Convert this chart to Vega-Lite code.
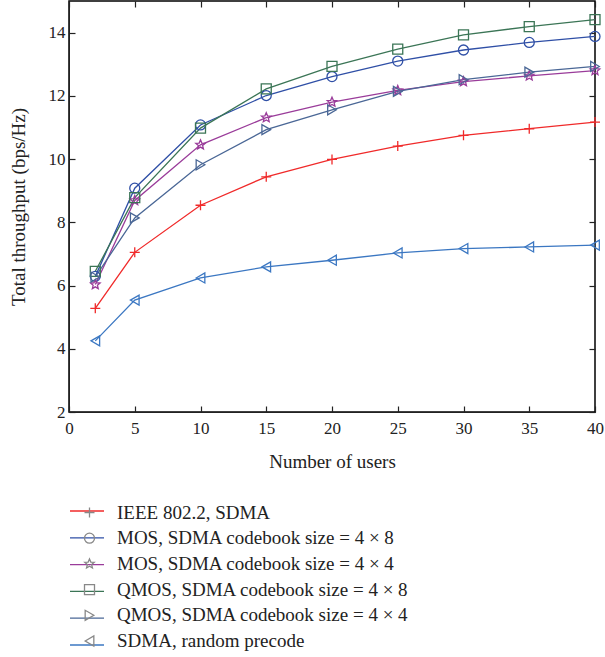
{
  "$schema": "https://vega.github.io/schema/vega-lite/v6.json",
  "width": 526,
  "height": 411,
  "autosize": {"type": "none"},
  "padding": {"left": 69, "top": 1, "right": 10, "bottom": 245},
  "config": {
    "font": "Liberation Serif",
    "view": {"stroke": "black", "strokeWidth": 1.5},
    "axis": {"grid": false, "labelFlush": false, "labelFont": "Liberation Serif", "titleFont": "Liberation Serif", "labelColor": "#222", "titleColor": "#222", "labelFontSize": 17, "titleFontSize": 19, "titleFontWeight": "normal", "tickColor": "#222", "domainColor": "#222", "tickSize": -6, "tickWidth": 1.2},
    "legend": {"labelFont": "Liberation Serif", "labelFontSize": 19, "labelColor": "#222", "labelLimit": 500}
  },
  "data": {"values": [
    {"users": 2, "throughput": 5.28, "series": "IEEE 802.2, SDMA"},
    {"users": 5, "throughput": 7.05, "series": "IEEE 802.2, SDMA"},
    {"users": 10, "throughput": 8.54, "series": "IEEE 802.2, SDMA"},
    {"users": 15, "throughput": 9.44, "series": "IEEE 802.2, SDMA"},
    {"users": 20, "throughput": 9.99, "series": "IEEE 802.2, SDMA"},
    {"users": 25, "throughput": 10.41, "series": "IEEE 802.2, SDMA"},
    {"users": 30, "throughput": 10.75, "series": "IEEE 802.2, SDMA"},
    {"users": 35, "throughput": 10.96, "series": "IEEE 802.2, SDMA"},
    {"users": 40, "throughput": 11.17, "series": "IEEE 802.2, SDMA"},
    {"users": 2, "throughput": 6.29, "series": "MOS, SDMA codebook size = 4 × 8"},
    {"users": 5, "throughput": 9.08, "series": "MOS, SDMA codebook size = 4 × 8"},
    {"users": 10, "throughput": 11.08, "series": "MOS, SDMA codebook size = 4 × 8"},
    {"users": 15, "throughput": 12.01, "series": "MOS, SDMA codebook size = 4 × 8"},
    {"users": 20, "throughput": 12.61, "series": "MOS, SDMA codebook size = 4 × 8"},
    {"users": 25, "throughput": 13.10, "series": "MOS, SDMA codebook size = 4 × 8"},
    {"users": 30, "throughput": 13.45, "series": "MOS, SDMA codebook size = 4 × 8"},
    {"users": 35, "throughput": 13.69, "series": "MOS, SDMA codebook size = 4 × 8"},
    {"users": 40, "throughput": 13.88, "series": "MOS, SDMA codebook size = 4 × 8"},
    {"users": 2, "throughput": 6.03, "series": "MOS, SDMA codebook size = 4 × 4"},
    {"users": 5, "throughput": 8.69, "series": "MOS, SDMA codebook size = 4 × 4"},
    {"users": 10, "throughput": 10.45, "series": "MOS, SDMA codebook size = 4 × 4"},
    {"users": 15, "throughput": 11.31, "series": "MOS, SDMA codebook size = 4 × 4"},
    {"users": 20, "throughput": 11.80, "series": "MOS, SDMA codebook size = 4 × 4"},
    {"users": 25, "throughput": 12.17, "series": "MOS, SDMA codebook size = 4 × 4"},
    {"users": 30, "throughput": 12.45, "series": "MOS, SDMA codebook size = 4 × 4"},
    {"users": 35, "throughput": 12.63, "series": "MOS, SDMA codebook size = 4 × 4"},
    {"users": 40, "throughput": 12.80, "series": "MOS, SDMA codebook size = 4 × 4"},
    {"users": 2, "throughput": 6.45, "series": "QMOS, SDMA codebook size = 4 × 8"},
    {"users": 5, "throughput": 8.78, "series": "QMOS, SDMA codebook size = 4 × 8"},
    {"users": 10, "throughput": 10.98, "series": "QMOS, SDMA codebook size = 4 × 8"},
    {"users": 15, "throughput": 12.22, "series": "QMOS, SDMA codebook size = 4 × 8"},
    {"users": 20, "throughput": 12.93, "series": "QMOS, SDMA codebook size = 4 × 8"},
    {"users": 25, "throughput": 13.48, "series": "QMOS, SDMA codebook size = 4 × 8"},
    {"users": 30, "throughput": 13.93, "series": "QMOS, SDMA codebook size = 4 × 8"},
    {"users": 35, "throughput": 14.19, "series": "QMOS, SDMA codebook size = 4 × 8"},
    {"users": 40, "throughput": 14.41, "series": "QMOS, SDMA codebook size = 4 × 8"},
    {"users": 2, "throughput": 6.27, "series": "QMOS, SDMA codebook size = 4 × 4"},
    {"users": 5, "throughput": 8.14, "series": "QMOS, SDMA codebook size = 4 × 4"},
    {"users": 10, "throughput": 9.82, "series": "QMOS, SDMA codebook size = 4 × 4"},
    {"users": 15, "throughput": 10.93, "series": "QMOS, SDMA codebook size = 4 × 4"},
    {"users": 20, "throughput": 11.56, "series": "QMOS, SDMA codebook size = 4 × 4"},
    {"users": 25, "throughput": 12.14, "series": "QMOS, SDMA codebook size = 4 × 4"},
    {"users": 30, "throughput": 12.51, "series": "QMOS, SDMA codebook size = 4 × 4"},
    {"users": 35, "throughput": 12.75, "series": "QMOS, SDMA codebook size = 4 × 4"},
    {"users": 40, "throughput": 12.93, "series": "QMOS, SDMA codebook size = 4 × 4"},
    {"users": 2, "throughput": 4.25, "series": "SDMA, random precode"},
    {"users": 5, "throughput": 5.54, "series": "SDMA, random precode"},
    {"users": 10, "throughput": 6.24, "series": "SDMA, random precode"},
    {"users": 15, "throughput": 6.59, "series": "SDMA, random precode"},
    {"users": 20, "throughput": 6.80, "series": "SDMA, random precode"},
    {"users": 25, "throughput": 7.03, "series": "SDMA, random precode"},
    {"users": 30, "throughput": 7.17, "series": "SDMA, random precode"},
    {"users": 35, "throughput": 7.22, "series": "SDMA, random precode"},
    {"users": 40, "throughput": 7.28, "series": "SDMA, random precode"}
  ]},
  "layer": [
    {
      "mark": {"type": "line", "strokeWidth": 1.3},
      "encoding": {
        "x": {"field": "users", "type": "quantitative", "scale": {"domain": [0, 40], "nice": false}, "axis": {"orient": "top", "labels": false, "domain": false, "title": null, "values": [0, 5, 10, 15, 20, 25, 30, 35, 40]}},
        "y": {"field": "throughput", "type": "quantitative", "scale": {"domain": [2, 15], "nice": false, "zero": false}, "axis": {"orient": "right", "labels": false, "domain": false, "title": null, "values": [2, 4, 6, 8, 10, 12, 14]}},
        "color": {
          "field": "series", "type": "nominal",
          "scale": {"domain": ["IEEE 802.2, SDMA", "MOS, SDMA codebook size = 4 × 8", "MOS, SDMA codebook size = 4 × 4", "QMOS, SDMA codebook size = 4 × 8", "QMOS, SDMA codebook size = 4 × 4", "SDMA, random precode"], "range": ["#f02a2a", "#2f4fa6", "#9a3c9a", "#3b7556", "#4a6796", "#3b77c2"]},
          "legend": {"orient": "none", "legendX": 0, "legendY": 492, "title": null, "symbolType": "stroke", "symbolSize": 1156, "symbolStrokeWidth": 1.3, "labelOffset": 13, "labelFontSize": 12, "labelOpacity": 0, "rowPadding": 2.8, "padding": 0}
        }
      }
    },
    {
      "mark": {"type": "point", "filled": false, "size": 100, "strokeWidth": 1.3, "opacity": 1},
      "encoding": {
        "x": {"field": "users", "type": "quantitative", "axis": {"orient": "bottom", "title": "Number of users", "values": [0, 5, 10, 15, 20, 25, 30, 35, 40], "labelPadding": 14, "titlePadding": 16}},
        "y": {"field": "throughput", "type": "quantitative", "axis": {"orient": "left", "title": "Total throughput (bps/Hz)", "values": [2, 4, 6, 8, 10, 12, 14], "labelPadding": 10, "titlePadding": 20}},
        "color": {"field": "series", "type": "nominal", "legend": null},
        "shape": {
          "field": "series", "type": "nominal",
          "sort": ["IEEE 802.2, SDMA", "MOS, SDMA codebook size = 4 × 8", "MOS, SDMA codebook size = 4 × 4", "QMOS, SDMA codebook size = 4 × 8", "QMOS, SDMA codebook size = 4 × 4", "SDMA, random precode"],
          "scale": {"range": ["M-1,0L1,0M0,-1L0,1", "circle", "M0,-1L0.265,-0.364L0.951,-0.309L0.428,0.139L0.588,0.809L0,0.45L-0.588,0.809L-0.428,0.139L-0.951,-0.309L-0.265,-0.364Z", "square", "triangle-right", "triangle-left"]},
          "legend": {"orient": "none", "legendX": 11, "legendY": 502, "title": null, "symbolSize": 100, "symbolStrokeWidth": 1.3, "symbolFillColor": "transparent", "labelOffset": 18, "rowPadding": 5.7, "padding": 0,
            "encode": {"symbols": {"update": {"stroke": {"scale": "color", "field": "value"}}}}}
        }
      }
    }
  ],
  "resolve": {"axis": {"x": "independent", "y": "independent"}, "legend": {"color": "independent", "shape": "independent"}}
}
